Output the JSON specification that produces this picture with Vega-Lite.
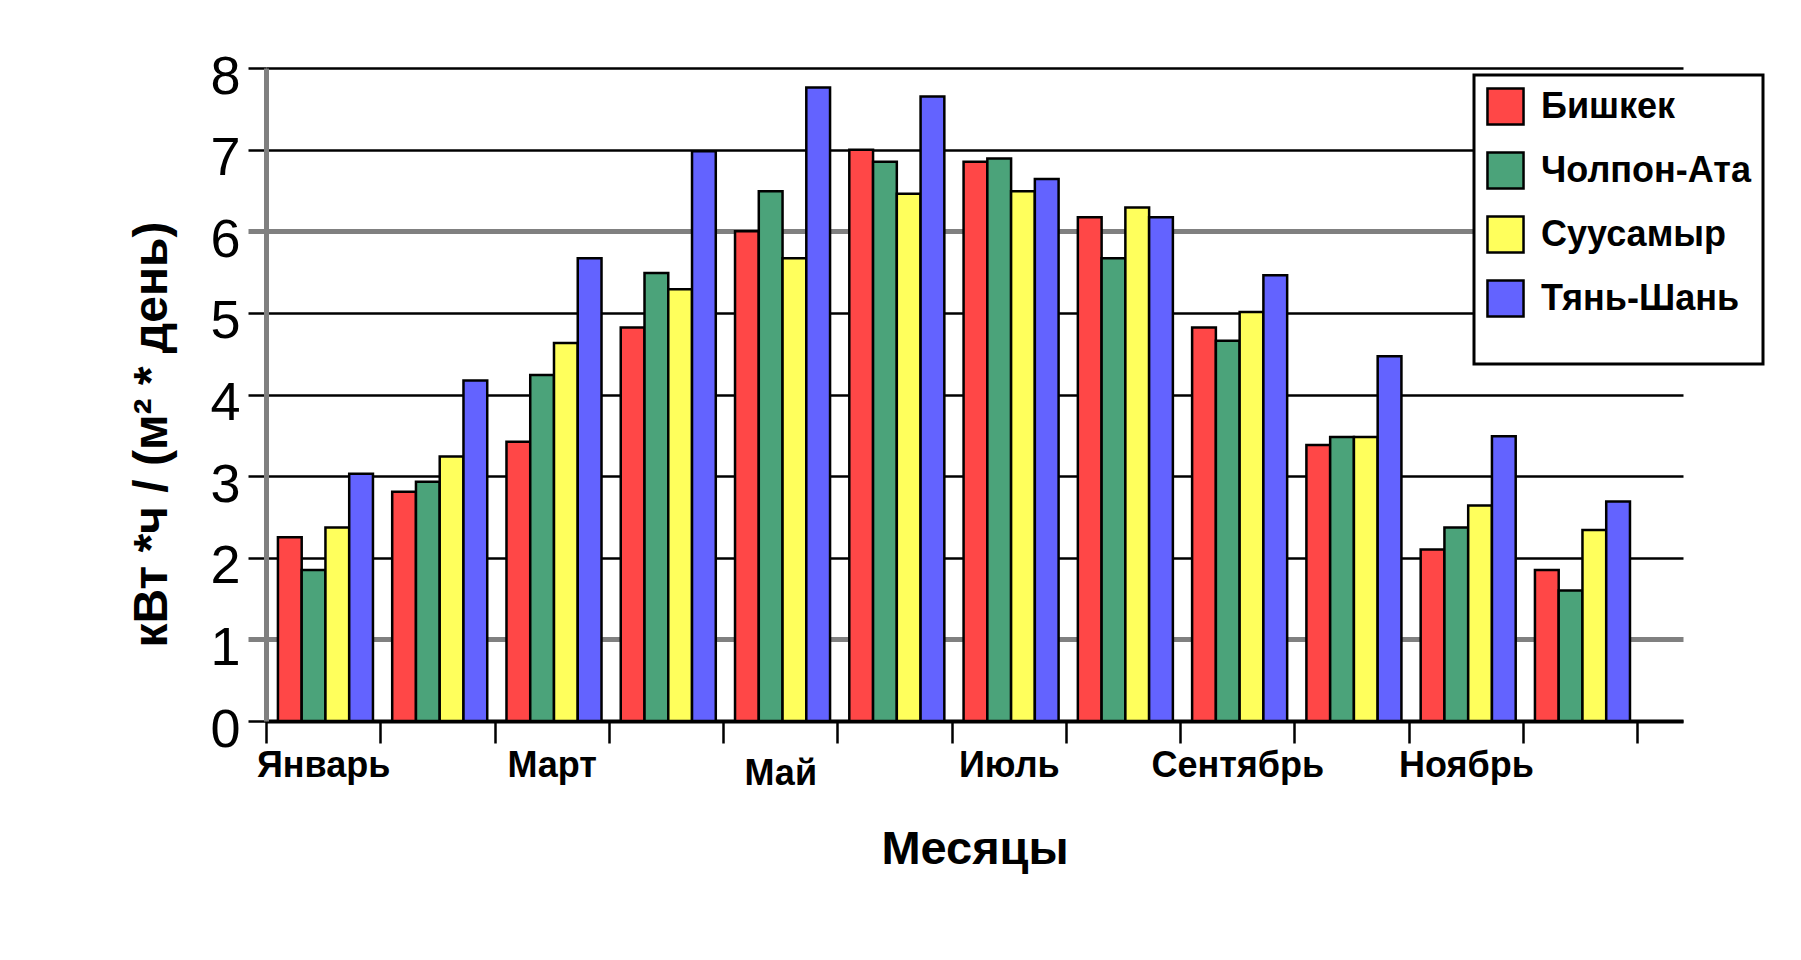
{
  "$schema": "https://vega.github.io/schema/vega-lite/v6.json",
  "width": 1417,
  "height": 653,
  "autosize": {"type": "none"},
  "padding": {"left": 266, "top": 68, "right": 118, "bottom": 239},
  "background": "white",
  "data": {"values": [
    {"month": "Январь", "station": "Бишкек", "value": 2.25},
    {"month": "Январь", "station": "Чолпон-Ата", "value": 1.85},
    {"month": "Январь", "station": "Суусамыр", "value": 2.37},
    {"month": "Январь", "station": "Тянь-Шань", "value": 3.03},
    {"month": "Февраль", "station": "Бишкек", "value": 2.81},
    {"month": "Февраль", "station": "Чолпон-Ата", "value": 2.93},
    {"month": "Февраль", "station": "Суусамыр", "value": 3.24},
    {"month": "Февраль", "station": "Тянь-Шань", "value": 4.17},
    {"month": "Март", "station": "Бишкек", "value": 3.42},
    {"month": "Март", "station": "Чолпон-Ата", "value": 4.24},
    {"month": "Март", "station": "Суусамыр", "value": 4.63},
    {"month": "Март", "station": "Тянь-Шань", "value": 5.67},
    {"month": "Апрель", "station": "Бишкек", "value": 4.82},
    {"month": "Апрель", "station": "Чолпон-Ата", "value": 5.49},
    {"month": "Апрель", "station": "Суусамыр", "value": 5.29},
    {"month": "Апрель", "station": "Тянь-Шань", "value": 6.98},
    {"month": "Май", "station": "Бишкек", "value": 6.0},
    {"month": "Май", "station": "Чолпон-Ата", "value": 6.49},
    {"month": "Май", "station": "Суусамыр", "value": 5.67},
    {"month": "Май", "station": "Тянь-Шань", "value": 7.76},
    {"month": "Июнь", "station": "Бишкек", "value": 7.0},
    {"month": "Июнь", "station": "Чолпон-Ата", "value": 6.85},
    {"month": "Июнь", "station": "Суусамыр", "value": 6.46},
    {"month": "Июнь", "station": "Тянь-Шань", "value": 7.65},
    {"month": "Июль", "station": "Бишкек", "value": 6.85},
    {"month": "Июль", "station": "Чолпон-Ата", "value": 6.89},
    {"month": "Июль", "station": "Суусамыр", "value": 6.49},
    {"month": "Июль", "station": "Тянь-Шань", "value": 6.64},
    {"month": "Август", "station": "Бишкек", "value": 6.17},
    {"month": "Август", "station": "Чолпон-Ата", "value": 5.67},
    {"month": "Август", "station": "Суусамыр", "value": 6.29},
    {"month": "Август", "station": "Тянь-Шань", "value": 6.17},
    {"month": "Сентябрь", "station": "Бишкек", "value": 4.82},
    {"month": "Сентябрь", "station": "Чолпон-Ата", "value": 4.66},
    {"month": "Сентябрь", "station": "Суусамыр", "value": 5.01},
    {"month": "Сентябрь", "station": "Тянь-Шань", "value": 5.46},
    {"month": "Октябрь", "station": "Бишкек", "value": 3.38},
    {"month": "Октябрь", "station": "Чолпон-Ата", "value": 3.48},
    {"month": "Октябрь", "station": "Суусамыр", "value": 3.48},
    {"month": "Октябрь", "station": "Тянь-Шань", "value": 4.47},
    {"month": "Ноябрь", "station": "Бишкек", "value": 2.1},
    {"month": "Ноябрь", "station": "Чолпон-Ата", "value": 2.37},
    {"month": "Ноябрь", "station": "Суусамыр", "value": 2.64},
    {"month": "Ноябрь", "station": "Тянь-Шань", "value": 3.49},
    {"month": "Декабрь", "station": "Бишкек", "value": 1.85},
    {"month": "Декабрь", "station": "Чолпон-Ата", "value": 1.6},
    {"month": "Декабрь", "station": "Суусамыр", "value": 2.34},
    {"month": "Декабрь", "station": "Тянь-Шань", "value": 2.69}
  ]},
  "mark": {"type": "bar", "stroke": "black", "strokeWidth": 2.5},
  "encoding": {
    "x": {
      "field": "month",
      "type": "nominal",
      "sort": ["Январь", "Февраль", "Март", "Апрель", "Май", "Июнь", "Июль", "Август", "Сентябрь", "Октябрь", "Ноябрь", "Декабрь"],
      "scale": {"paddingInner": 0, "paddingOuter": 0.2, "align": 0},
      "title": "Месяцы",
      "axis": {
        "tickBand": "extent",
        "labelExpr": "indexof(['Январь','Март','Май','Июль','Сентябрь','Ноябрь'], datum.value) >= 0 ? datum.value : ''",
        "labelOverlap": false,
        "labelAngle": 0,
        "grid": false,
        "domainColor": "black",
        "domainWidth": 4,
        "tickColor": "black",
        "tickWidth": 2.5,
        "tickSize": 22,
        "labelFont": "Liberation Sans",
        "labelFontWeight": "bold",
        "labelFontSize": 36,
        "labelColor": "black",
        "labelBaseline": "top",
        "labelPadding": {"condition": {"test": "datum.value === 'Май'", "value": 13}, "value": 5},
        "titleFont": "Liberation Sans",
        "titleFontSize": 47,
        "titleFontWeight": "bold",
        "titleColor": "black",
        "titleY": 142,
        "titleBaseline": "alphabetic"
      }
    },
    "xOffset": {
      "field": "station",
      "type": "nominal",
      "sort": ["Бишкек", "Чолпон-Ата", "Суусамыр", "Тянь-Шань"],
      "scale": {"paddingInner": 0, "paddingOuter": 0.405, "align": 0.62}
    },
    "y": {
      "field": "value",
      "type": "quantitative",
      "scale": {"domain": [0, 8], "nice": false},
      "title": "кВт *ч / (м² * день)",
      "axis": {
        "values": [0, 1, 2, 3, 4, 5, 6, 7, 8],
        "grid": true,
        "gridColor": {"condition": {"test": "datum.value === 1 || datum.value === 6", "value": "#808080"}, "value": "black"},
        "gridWidth": {"condition": {"test": "datum.value === 1 || datum.value === 6", "value": 5}, "value": 2.5},
        "tickColor": {"condition": {"test": "datum.value === 1 || datum.value === 6", "value": "#808080"}, "value": "black"},
        "tickWidth": {"condition": {"test": "datum.value === 1 || datum.value === 6", "value": 5}, "value": 2.5},
        "tickSize": 18,
        "domainColor": "#808080",
        "domainWidth": 5,
        "labelFont": "Liberation Sans",
        "labelFontSize": 54,
        "labelColor": "black",
        "labelPadding": 8,
        "labelOffset": 9,
        "titleFont": "Liberation Sans",
        "titleFontSize": 48,
        "titleFontWeight": "bold",
        "titleColor": "black",
        "titleAngle": 270,
        "titleAlign": "center",
        "titleBaseline": "alphabetic",
        "titleX": -100,
        "titleY": 366
      }
    },
    "color": {
      "field": "station",
      "type": "nominal",
      "scale": {
        "domain": ["Бишкек", "Чолпон-Ата", "Суусамыр", "Тянь-Шань"],
        "range": ["#FF4747", "#4BA37A", "#FFFF5C", "#6363FF"]
      },
      "legend": {
        "orient": "none",
        "legendX": 1208,
        "legendY": 7,
        "title": " ",
        "titleOrient": "bottom",
        "titleFontSize": 30,
        "titlePadding": 0,
        "strokeColor": "black",
        "fillColor": "white",
        "padding": 12,
        "symbolType": "square",
        "symbolSize": 1300,
        "symbolStrokeColor": "black",
        "symbolStrokeWidth": 2.5,
        "symbolOpacity": 1,
        "labelFont": "Liberation Sans",
        "labelFontWeight": "bold",
        "labelFontSize": 36,
        "labelColor": "black",
        "labelOffset": 16,
        "labelLimit": 400,
        "rowPadding": 17,
        "encode": {"legend": {"update": {"strokeWidth": {"value": 3}}}}
      }
    }
  },
  "config": {"view": {"stroke": null}}
}
